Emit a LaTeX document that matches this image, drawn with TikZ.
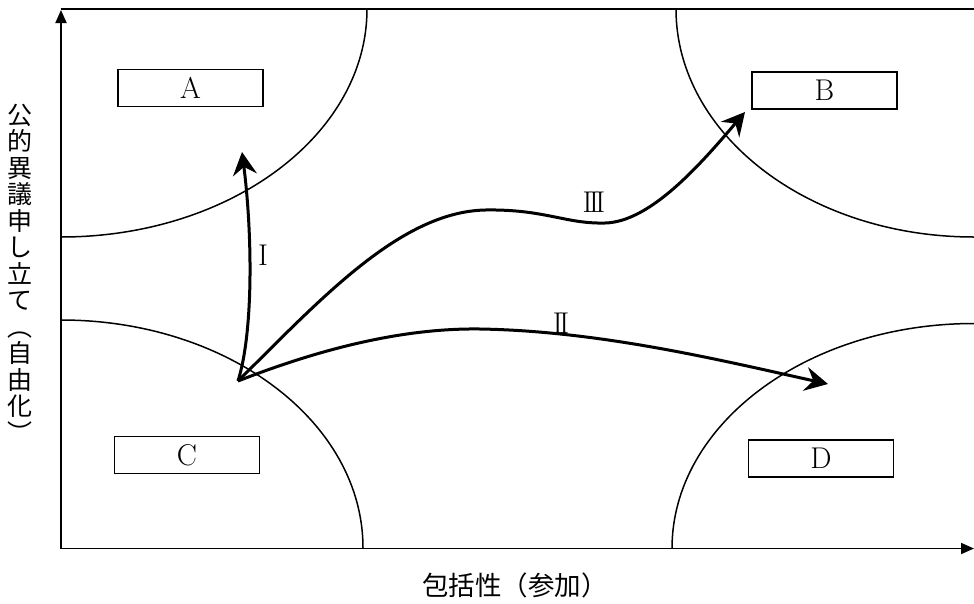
\documentclass[tikz,border=0pt]{standalone}
\usepackage{fontspec}
\usepackage{graphicx}
\newfontfamily\jp{Noto Sans CJK JP}
\usetikzlibrary{arrows.meta}
\newcommand{\vrot}[1]{\rotatebox[origin=c]{-90}{#1}}
\tikzset{
  axisline/.style={line width=1.8pt,-{Triangle[length=13pt,width=11pt]}},
  frameline/.style={line width=1.8pt},
  zonearc/.style={line width=1.5pt},
  lbox/.style={draw,line width=1.7pt,minimum width=145pt,minimum height=37pt,inner sep=0pt,font=\fontsize{30}{31}\selectfont},
  flow/.style={line width=3pt,-{Stealth[length=23pt,width=24pt,inset=8pt]}},
  numlabel/.style={inner sep=0pt,font=\fontsize{30}{31}\selectfont}
}
\begin{document}
\begin{tikzpicture}[x=1pt,y=-1pt]
\useasboundingbox (0,0) rectangle (974,603);
% frame and axes
\coordinate (org) at (61,548.5);
\coordinate (ytip) at (61,10);
\coordinate (xtip) at (974,548.5);
\coordinate (tl) at (61,9);
\coordinate (tr) at (974,9);
\draw[frameline] (tl) -- (tr);
\draw[axisline] (org) -- (ytip);
\draw[axisline] (org) -- (xtip);
% zone arcs
\draw[zonearc] (61,237) arc[start angle=90,end angle=0,x radius=306,y radius=228];
\draw[zonearc] (61,320) arc[start angle=-90,end angle=0,x radius=302,y radius=228];
\draw[zonearc] (676,9) arc[start angle=180,end angle=90,x radius=298,y radius=228];
\draw[zonearc] (672,548.5) arc[start angle=180,end angle=270,x radius=302,y radius=225];
% boxes
\node[lbox] (A) at (190.5,88) {A};
\node[lbox] (B) at (824.5,90.5) {B};
\node[lbox] (C) at (187,455) {C};
\node[lbox] (D) at (821,458.5) {D};
% flows
\coordinate (O) at (238,381);
\coordinate (e1) at (242,152);
\coordinate (e2) at (828,384);
\coordinate (e3) at (745,112);
\draw[flow] (O) .. controls (254,330) and (252,230) .. (e1);
\draw[flow] (O) .. controls (320,300) and (400,212) .. (485,210)
  .. controls (545,209) and (565,224) .. (605,223)
  .. controls (650,222) and (700,165) .. (e3);
\draw[flow] (O) .. controls (330,345) and (410,328) .. (480,329)
  .. controls (600,331) and (720,360) .. (e2);
% labels
\node[numlabel] (l1) at (263,255) {I};
\node[numlabel] (l2) at (561,323) {I\kern-3.5pt I};
\node[numlabel] (l3) at (594,202) {I\kern-3.5pt I\kern-3.5pt I};
% axis titles
\node[inner sep=0pt,anchor=north,align=center,font=\jp\fontsize{25}{26.5}\selectfont] (ylab) at (20,104)
  {公\\的\\異\\議\\申\\し\\立\\て\\\vrot{（}\\自\\由\\化\\\vrot{）}};
\node[inner sep=0pt,font=\jp\fontsize{26.5}{30}\selectfont] (xlab) at (515,585) {包括性（参加）};
\end{tikzpicture}
\end{document}
